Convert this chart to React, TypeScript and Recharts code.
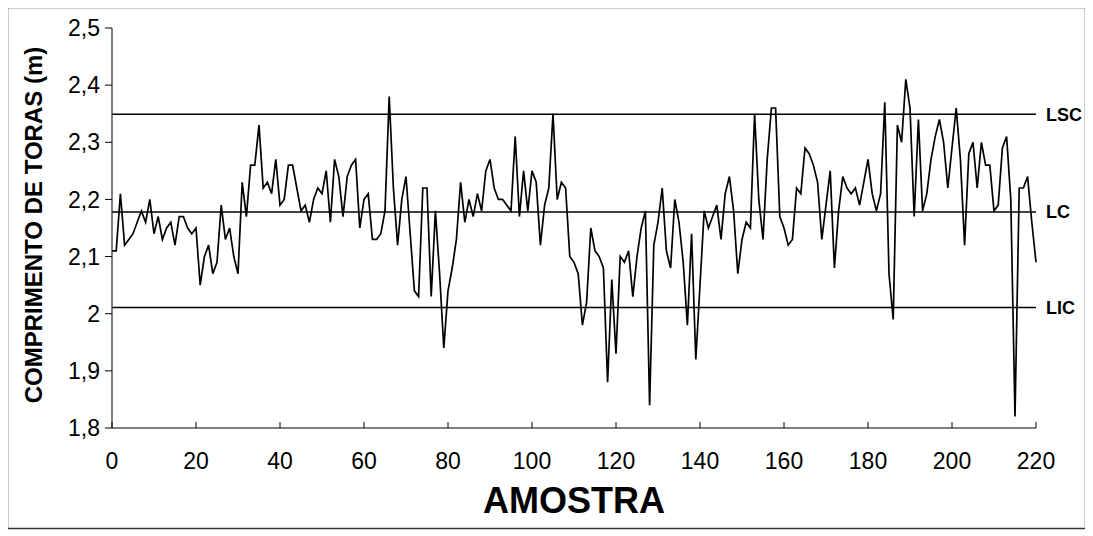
import React from 'react';
import { LineChart, Line, XAxis, YAxis, ReferenceLine, Label } from 'recharts';

// Comprimento de toras (m) por amostra 0..220
const comprimento: number[] = [
  2.11, 2.11, 2.21, 2.12, 2.13, 2.14, 2.16, 2.18, 2.16, 2.20,
  2.14, 2.17, 2.13, 2.15, 2.16, 2.12, 2.17, 2.17, 2.15, 2.14,
  2.15, 2.05, 2.10, 2.12, 2.07, 2.09, 2.19, 2.13, 2.15, 2.10,
  2.07, 2.23, 2.17, 2.26, 2.26, 2.33, 2.22, 2.23, 2.21, 2.27,
  2.19, 2.20, 2.26, 2.26, 2.22, 2.18, 2.19, 2.16, 2.20, 2.22,
  2.21, 2.25, 2.16, 2.27, 2.24, 2.17, 2.24, 2.26, 2.27, 2.15,
  2.20, 2.21, 2.13, 2.13, 2.14, 2.18, 2.38, 2.22, 2.12, 2.20,
  2.24, 2.14, 2.04, 2.03, 2.22, 2.22, 2.03, 2.18, 2.07, 1.94,
  2.04, 2.08, 2.13, 2.23, 2.16, 2.20, 2.17, 2.21, 2.18, 2.25,
  2.27, 2.22, 2.20, 2.20, 2.19, 2.18, 2.31, 2.17, 2.25, 2.18,
  2.25, 2.23, 2.12, 2.19, 2.22, 2.35, 2.20, 2.23, 2.22, 2.10,
  2.09, 2.07, 1.98, 2.02, 2.15, 2.11, 2.10, 2.08, 1.88, 2.06,
  1.93, 2.10, 2.09, 2.11, 2.03, 2.10, 2.15, 2.18, 1.84, 2.12,
  2.16, 2.22, 2.11, 2.08, 2.20, 2.16, 2.09, 1.98, 2.14, 1.92,
  2.05, 2.18, 2.15, 2.17, 2.19, 2.13, 2.21, 2.24, 2.18, 2.07,
  2.13, 2.16, 2.15, 2.35, 2.20, 2.13, 2.27, 2.36, 2.36, 2.17,
  2.15, 2.12, 2.13, 2.22, 2.21, 2.29, 2.28, 2.26, 2.23, 2.13,
  2.19, 2.25, 2.08, 2.18, 2.24, 2.22, 2.21, 2.22, 2.19, 2.23,
  2.27, 2.21, 2.18, 2.21, 2.37, 2.07, 1.99, 2.33, 2.30, 2.41,
  2.36, 2.17, 2.34, 2.18, 2.21, 2.27, 2.31, 2.34, 2.30, 2.22,
  2.29, 2.36, 2.27, 2.12, 2.28, 2.30, 2.22, 2.30, 2.26, 2.26,
  2.18, 2.19, 2.29, 2.31, 2.20, 1.82, 2.22, 2.22, 2.24, 2.16,
  2.09,
];

const xTicks: number[] = [0, 20, 40, 60, 80, 100, 120, 140, 160, 180, 200, 220];
const yTicks: number[] = [1.8, 1.9, 2.0, 2.1, 2.2, 2.3, 2.4, 2.5];

const limitNames: string[] = ['LSC', 'LC', 'LIC'];
const limitValues: number[] = [2.349, 2.178, 2.011];

const data = comprimento.map((v, i) => ({ amostra: i, comprimento: v }));

const FONT = '"Liberation Sans", Arial, Helvetica, sans-serif';

const fmtY = (v: number) => {
  const r = Math.round(v * 10) / 10;
  return String(r).replace('.', ',');
};

const XTick = (props: any) => {
  const { x, y, payload } = props;
  return (
    <g>
      <line x1={x} x2={x} y1={y} y2={y - 6} stroke="#000" strokeWidth={1} />
      <text x={x} y={y + 41} textAnchor="middle" fontSize={23} fontFamily={FONT} fill="#000">
        {payload.value}
      </text>
    </g>
  );
};

export default function App() {
  return (
    <div style={{ margin: '-8px 0 0 -8px', width: 1093, height: 536, background: '#fff', overflow: 'hidden' }}>
      <LineChart
        width={1093}
        height={536}
        data={data}
        margin={{ top: 28, right: 57, bottom: 0, left: 0 }}
      >
        <rect x={7.5} y={7.5} width={1078} height={521} fill="none" stroke="#333" strokeWidth={1.5} />
        <XAxis
          dataKey="amostra"
          type="number"
          domain={[0, 220]}
          ticks={xTicks}
          height={108}
          stroke="#000"
          tickLine={false}
          tickSize={0}
          tickMargin={0}
          tick={<XTick />}
          interval={0}
        >
          <Label
            content={(p: any) => {
              const vb = p.viewBox || {};
              const cx = vb.x + vb.width / 2;
              return (
                <text
                  x={cx}
                  y={vb.y + 85}
                  textAnchor="middle"
                  fontSize={36}
                  fontWeight="bold"
                  fontFamily={FONT}
                  fill="#000"
                >
                  AMOSTRA
                </text>
              );
            }}
          />
        </XAxis>
        <YAxis
          type="number"
          domain={[1.8, 2.5]}
          ticks={yTicks}
          width={112}
          stroke="#000"
          tickSize={7}
          tickMargin={5}
          tickFormatter={fmtY}
          tick={{ fill: '#000', fontSize: 23, fontFamily: FONT }}
          interval={0}
        >
          <Label
            content={(p: any) => {
              const vb = p.viewBox || {};
              const cx = vb.x + 33;
              const cy = vb.y + vb.height / 2 - 3;
              return (
                <text
                  x={cx}
                  y={cy}
                  transform={`rotate(-90, ${cx}, ${cy})`}
                  textAnchor="middle"
                  dominantBaseline="central"
                  fontSize={24}
                  fontWeight="bold"
                  fontFamily={FONT}
                  fill="#000"
                >
                  COMPRIMENTO DE TORAS (m)
                </text>
              );
            }}
          />
        </YAxis>
        {limitValues.map((v, k) => (
          <ReferenceLine
            key={limitNames[k]}
            y={v}
            stroke="#000"
            strokeWidth={1.6}
            label={{
              value: limitNames[k],
              position: 'right',
              offset: 10,
              fontSize: 18,
              fontWeight: 'bold',
              fill: '#000',
              fontFamily: FONT,
            }}
          />
        ))}
        <Line
          type="linear"
          dataKey="comprimento"
          stroke="#000"
          strokeWidth={1.7}
          dot={false}
          activeDot={false}
          isAnimationActive={false}
        />
      </LineChart>
    </div>
  );
}
